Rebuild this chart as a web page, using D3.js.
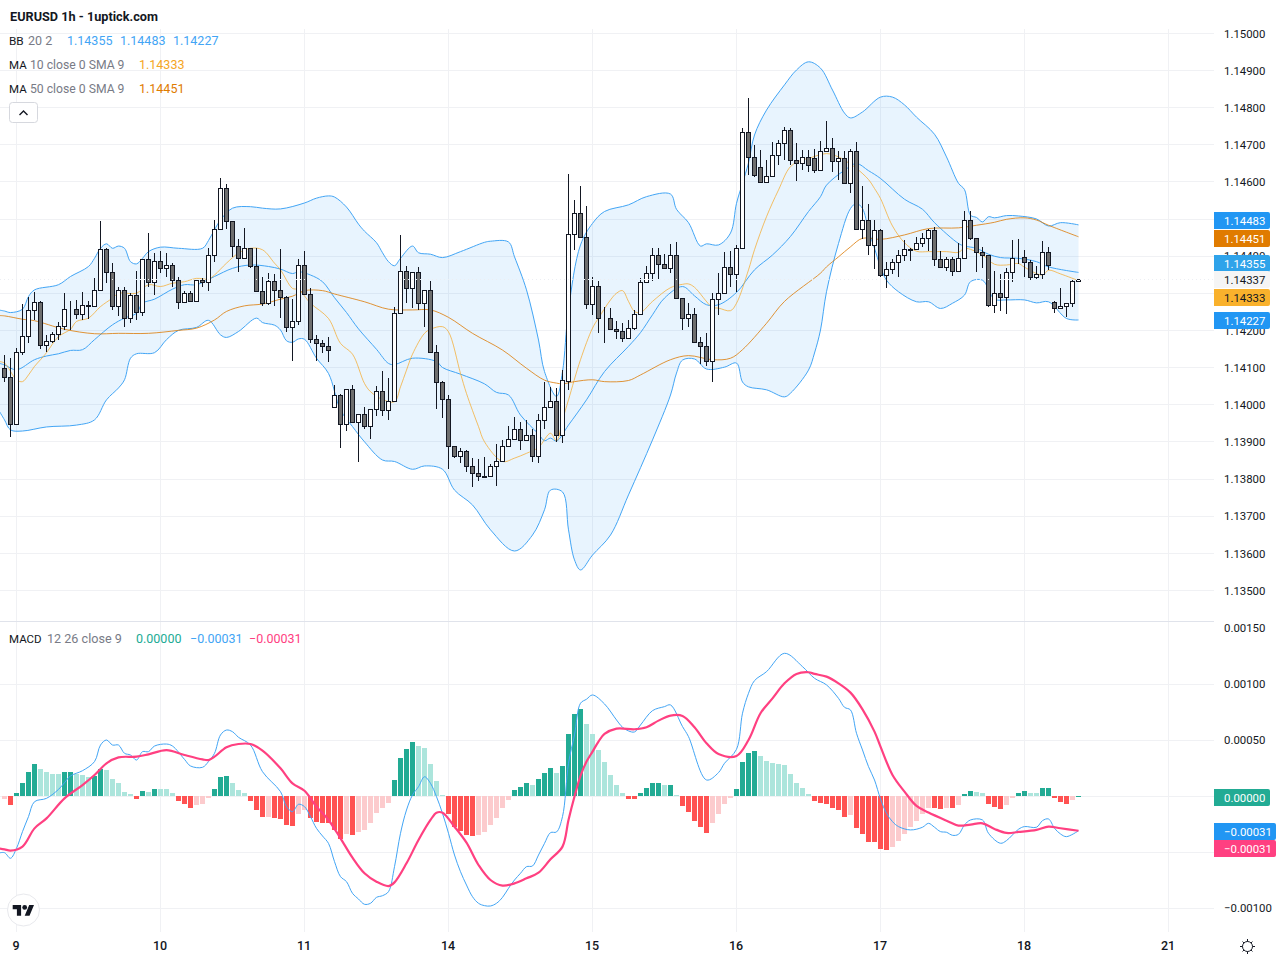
<!DOCTYPE html>
<html>
<head>
<meta charset="utf-8">
<title>EURUSD 1h</title>
<script src="https://cdn.jsdelivr.net/npm/d3@7/dist/d3.min.js"></script>
<style>
html,body{margin:0;padding:0;background:#fff;overflow:hidden}
svg{display:block}
text{font-family:Roboto,"Liberation Sans",sans-serif}
</style>
</head>
<body>
<svg id="chart" width="1280" height="960"></svg>
<script>
// All prices are in points (0.00001), hourly bars numbered from 0.
// Each row: open, high, low, close.
const ohlc = [
[114097,114133,114061,114073],[114073,114124,113912,113947],[113947,114151,113945,114140],[114140,114270,114133,114183],
[114183,114288,114164,114253],[114253,114302,114227,114275],[114275,114278,114150,114159],[114159,114186,114142,114170],
[114170,114194,114164,114189],[114189,114221,114174,114210],[114210,114299,114200,114256],[114256,114277,114200,114257],
[114256,114281,114230,114243],[114243,114302,114227,114267],[114264,114277,114230,114267],[114264,114339,114264,114307],
[114307,114494,114307,114418],[114418,114420,114326,114356],[114356,114380,114254,114264],[114264,114315,114238,114307],
[114307,114315,114209,114232],[114232,114299,114220,114295],[114294,114358,114227,114248],[114248,114391,114238,114391],
[114391,114461,114315,114329],[114329,114407,114294,114385],[114385,114413,114353,114366],[114366,114407,114342,114374],
[114374,114380,114315,114334],[114334,114342,114256,114275],[114275,114304,114275,114299],[114299,114304,114278,114278],
[114278,114335,114277,114334],[114334,114339,114315,114329],[114329,114420,114306,114401],[114401,114496,114382,114471],
[114471,114609,114471,114582],[114582,114592,114473,114493],[114493,114494,114396,114425],[114425,114444,114357,114393],
[114393,114474,114392,114420],[114420,114421,114366,114372],[114372,114420,114304,114304],[114304,114342,114265,114272],
[114272,114353,114268,114331],[114331,114351,114264,114307],[114307,114418,114233,114290],[114290,114291,114195,114207],
[114207,114283,114117,114223],[114223,114391,114213,114374],[114374,114412,114296,114296],[114296,114312,114164,114175],
[114175,114186,114117,114164],[114164,114173,114139,114156],[114156,114180,114115,114145],[113994,114052,113994,114024],
[114024,114029,113883,113946],[113946,114041,113929,114040],[114040,114052,113949,113951],[113951,113973,113844,113973],
[113973,113994,113934,113941],[113941,113987,113907,113986],[113986,114049,113969,114035],[114035,114090,113969,113984],
[113984,114070,113959,114008],[114008,114261,114008,114245],[114245,114456,114243,114358],[114358,114372,114273,114312],
[114312,114356,114258,114355],[114355,114369,114253,114274],[114274,114308,114207,114307],[114307,114332,114142,114142],
[114142,114159,113986,114059],[114059,114062,113964,114013],[114013,114025,113827,113887],[113887,113888,113855,113860],
[113860,113881,113841,113873],[113873,113876,113817,113833],[113833,113855,113777,113814],[113814,113853,113794,113806],
[113806,113857,113805,113805],[113806,113838,113803,113833],[113833,113893,113781,113846],[113846,113904,113846,113887],
[113887,113941,113886,113906],[113906,113965,113906,113933],[113933,113951,113876,113903],[113903,113958,113903,113916],
[113916,113934,113844,113860],[113860,113973,113841,113957],[113957,114060,113933,113994],[113994,114047,113989,114008],
[114008,114044,113898,113917],[113917,114093,113896,114065],[114064,114619,114039,114458],[114458,114550,114416,114514],
[114514,114588,114450,114450],[114450,114534,114257,114270],[114270,114342,114241,114318],[114318,114331,114193,114232],
[114232,114263,114164,114231],[114232,114260,114202,114202],[114202,114225,114175,114197],[114197,114218,114168,114178],
[114178,114227,114175,114205],[114205,114254,114200,114243],[114243,114340,114240,114329],[114329,114372,114326,114353],
[114353,114420,114332,114401],[114401,114420,114337,114377],[114377,114405,114366,114366],[114366,114431,114353,114401],
[114401,114437,114283,114286],[114286,114287,114199,114232],[114232,114272,114209,114243],[114243,114259,114167,114167],
[114167,114181,114108,114156],[114156,114191,114102,114116],[114116,114299,114061,114283],[114283,114353,114240,114299],
[114299,114411,114299,114369],[114369,114413,114317,114350],[114350,114429,114302,114420],[114420,114744,114421,114733],
[114733,114825,114617,114666],[114666,114698,114612,114617],[114640,114685,114596,114598],[114598,114658,114596,114615],
[114615,114706,114612,114671],[114671,114712,114644,114703],[114703,114747,114658,114738],[114738,114744,114644,114658],
[114658,114703,114601,114650],[114650,114685,114631,114666],[114666,114685,114625,114644],[114662,114686,114623,114632],
[114632,114708,114630,114681],[114681,114762,114681,114691],[114691,114716,114626,114656],[114656,114681,114605,114662],
[114662,114681,114595,114595],[114595,114686,114569,114683],[114683,114705,114469,114473],[114473,114589,114444,114495],
[114495,114538,114401,114428],[114428,114496,114365,114468],[114468,114473,114342,114347],[114347,114382,114312,114363],
[114363,114390,114351,114382],[114382,114415,114343,114403],[114403,114442,114386,114417],[114417,114420,114386,114415],
[114419,114451,114417,114433],[114433,114460,114424,114449],[114449,114473,114412,114468],[114468,114478,114373,114390],
[114390,114412,114369,114369],[114369,114397,114360,114390],[114390,114397,114346,114358],[114358,114433,114358,114395],
[114395,114520,114395,114495],[114495,114520,114442,114447],[114447,114448,114356,114409],[114409,114423,114366,114401],
[114401,114402,114261,114266],[114266,114360,114246,114299],[114299,114352,114252,114288],[114288,114366,114243,114355],
[114355,114442,114329,114395],[114395,114445,114377,114394],[114396,114415,114343,114382],[114382,114388,114334,114342],
[114342,114372,114334,114352],[114352,114439,114338,114409],[114409,114424,114361,114374],[114276,114277,114247,114258],
[114258,114312,114258,114264],[114264,114273,114236,114272],[114272,114336,114263,114331],[114331,114338,114331,114337]
];

// Bollinger Bands and moving averages: [bar, value] readings.
const bbUpper = [[-1,114254],[0,114251],[1,114247],[3,114256],[4,114290],[5,114308],[9,114322],[11,114344],[14,114371],[15,114393],[16,114420],[17,114432],[18,114420],[19,114426],[20,114420],[21,114384],[22,114378],[23,114393],[24,114411],[26,114423],[29,114420],[33,114420],[34,114441],[35,114470],[36,114496],[38,114528],[41,114532],[43,114528],[46,114526],[50,114542],[52,114555],[54,114561],[55,114558],[57,114531],[59,114485],[60,114466],[62,114435],[63,114408],[64,114384],[65,114373],[66,114393],[68,114426],[69,114408],[71,114404],[73,114395],[76,114411],[80,114436],[81,114439],[84,114437],[85,114397],[87,114308],[89,114173],[90,114088],[92,114021],[93,114088],[94,114254],[96,114429],[98,114487],[100,114519],[104,114537],[107,114559],[111,114566],[112,114525],[114,114489],[116,114426],[117,114432],[119,114429],[121,114461],[122,114541],[123,114595],[124,114650],[125,114725],[127,114792],[130,114860],[132,114900],[134,114922],[136,114905],[138,114846],[140,114784],[141,114771],[143,114787],[146,114827],[148,114827],[150,114806],[152,114773],[155,114727],[157,114666],[159,114595],[160,114578],[161,114509],[162,114503],[163,114491],[164,114505],[165,114502],[167,114508],[169,114507],[172,114499],[174,114480],[176,114489],[179,114483]];
const bbMiddle = [[-1,114111],[0,114106],[2,114093],[5,114120],[7,114130],[9,114136],[11,114145],[13,114147],[15,114174],[18,114214],[20,114232],[22,114245],[23,114272],[25,114283],[28,114310],[30,114322],[32,114322],[35,114344],[38,114366],[41,114375],[44,114371],[46,114364],[48,114352],[49,114357],[51,114348],[53,114330],[55,114287],[57,114247],[59,114203],[62,114148],[64,114110],[65,114107],[68,114124],[72,114115],[73,114099],[76,114081],[80,114055],[82,114032],[84,114025],[86,113971],[89,113920],[90,113902],[91,113909],[92,113901],[94,113944],[97,114012],[100,114088],[104,114156],[106,114193],[108,114241],[110,114286],[113,114317],[115,114292],[117,114268],[119,114268],[122,114301],[125,114362],[128,114402],[131,114452],[134,114519],[136,114559],[137,114590],[140,114630],[142,114648],[144,114629],[146,114608],[150,114552],[153,114525],[155,114489],[159,114433],[160,114426],[162,114420],[164,114404],[166,114395],[169,114393],[172,114384],[174,114370],[179,114355]];
const bbLower = [[-1,113985],[0,113958],[1,113931],[3,113928],[7,113939],[12,113944],[15,113958],[17,114012],[19,114044],[20,114066],[21,114124],[22,114136],[25,114139],[27,114174],[29,114199],[32,114207],[34,114226],[36,114187],[37,114180],[39,114196],[42,114232],[43,114220],[45,114213],[46,114200],[47,114171],[48,114167],[49,114176],[50,114175],[52,114124],[54,114083],[56,113985],[58,113940],[60,113899],[63,113850],[65,113846],[68,113825],[70,113834],[73,113825],[75,113769],[78,113729],[81,113662],[85,113605],[88,113648],[90,113716],[91,113769],[93,113764],[94,113662],[95,113581],[96,113554],[98,113594],[101,113648],[104,113756],[108,113904],[111,114025],[112,114084],[113,114119],[115,114122],[117,114095],[120,114100],[122,114111],[123,114060],[124,114047],[127,114039],[130,114020],[131,114030],[134,114092],[135,114138],[136,114200],[137,114303],[139,114433],[141,114527],[142,114541],[143,114527],[144,114469],[145,114420],[146,114370],[147,114334],[149,114303],[152,114276],[154,114276],[156,114258],[158,114272],[160,114294],[161,114330],[163,114334],[165,114283],[167,114281],[170,114281],[172,114273],[174,114276],[177,114231],[179,114227]];
const ma10 = [[-1,114115],[0,114111],[2,114066],[3,114061],[4,114079],[5,114102],[6,114120],[7,114139],[9,114182],[11,114202],[12,114223],[14,114232],[16,114263],[18,114286],[19,114299],[22,114299],[24,114322],[26,114317],[28,114326],[30,114330],[32,114339],[34,114337],[35,114348],[37,114380],[39,114407],[41,114420],[43,114416],[45,114380],[46,114362],[48,114312],[49,114309],[51,114272],[54,114231],[56,114164],[58,114135],[60,114056],[61,114034],[63,114013],[65,114007],[66,114047],[67,114092],[68,114135],[70,114191],[71,114202],[73,114209],[74,114195],[76,114083],[77,114029],[79,113940],[80,113899],[83,113846],[85,113855],[87,113868],[89,113884],[91,113922],[92,113901],[93,113958],[94,114012],[96,114120],[98,114205],[99,114232],[101,114281],[102,114299],[103,114306],[104,114277],[105,114250],[106,114247],[108,114277],[111,114314],[113,114323],[114,114324],[115,114315],[118,114261],[119,114259],[121,114252],[122,114272],[124,114362],[125,114416],[127,114505],[129,114577],[131,114640],[133,114658],[134,114662],[137,114675],[139,114666],[140,114657],[142,114635],[144,114605],[145,114581],[146,114554],[148,114480],[150,114435],[152,114412],[154,114411],[157,114411],[159,114409],[160,114420],[163,114402],[165,114377],[167,114375],[169,114379],[170,114369],[173,114348],[174,114361],[176,114351],[179,114333]];
const ma50 = [[-1,114239],[0,114238],[3,114229],[5,114225],[10,114202],[15,114190],[19,114191],[24,114191],[29,114199],[32,114205],[35,114227],[37,114250],[40,114265],[43,114270],[46,114283],[48,114291],[50,114306],[53,114306],[55,114297],[60,114276],[64,114256],[68,114254],[71,114254],[74,114234],[78,114191],[83,114146],[87,114097],[90,114065],[92,114057],[93,114055],[95,114061],[98,114066],[100,114061],[104,114064],[106,114079],[111,114120],[114,114131],[118,114120],[121,114124],[123,114147],[127,114218],[130,114277],[136,114353],[137,114370],[139,114397],[141,114424],[143,114447],[146,114444],[150,114456],[154,114473],[159,114475],[162,114482],[165,114490],[167,114498],[170,114502],[172,114496],[174,114482],[179,114451]];

// MACD pane, also in points.
const macdHist = [-2.7,-8,3,11.6,21.4,28.6,24.1,21.4,19.6,19.4,21.4,21.5,19.6,18.8,17,17.9,24.1,23.2,15.2,11.6,3.6,1.8,-2.7,4.5,3.6,6.3,6.2,6.1,2.7,-4.5,-7.1,-10.7,-8,-7.1,-1.8,6.3,17,17.9,11.6,5.4,2.7,-4.5,-12.5,-18.8,-18.7,-19.6,-20.5,-25.9,-26.8,-16.1,-12.5,-19.6,-23.2,-24.1,-24.2,-30.4,-38.4,-33.9,-34.8,-32.1,-30.4,-24.1,-15.2,-10.7,-6.3,14.3,33.9,42,48.2,44.6,42.9,28.6,13.4,0.9,-16.1,-27.7,-31.3,-34.8,-35.7,-34.8,-32.1,-25.9,-19.6,-10.7,-3.6,5.4,8,11.6,9.8,15.2,20.5,25,20.5,26.8,55.4,73.2,77.7,64.3,55.4,41.1,30.4,18.8,9.8,2.7,-2.7,-2.8,2.7,7.1,11.6,11.7,9.8,9.9,0.9,-8.9,-14.3,-22.3,-27.7,-33,-24.1,-16.1,-7.1,-1.8,6.3,30.4,38.4,40.2,35.7,31.3,29.5,28.6,27.7,19.6,11.6,7.1,1.8,-4.5,-6.3,-7.1,-10.7,-12.5,-18.8,-17,-28.6,-33.9,-41.1,-41.2,-47.3,-48.2,-45.5,-40.2,-33.9,-27.7,-22.3,-16.1,-10.7,-10.8,-11.6,-10.7,-10.8,-8,1.8,4.5,3.6,2.7,-7.1,-9.8,-11.6,-8,-1.8,2.7,4.5,2.7,2.6,7.1,7.2,-1.8,-5.4,-7.1,-3.6,0];
const macdLine = [[-1,-51],[0,-50.6],[1,-55.6],[2,-46.7],[3,-31.8],[4,-18.4],[5,-5.1],[7,-2.1],[9,5.9],[10,11.9],[11,17.9],[13,22.6],[15,30.7],[16,45.5],[17,50],[18,45.5],[19,45.5],[20,38.1],[21,36.6],[22,32.1],[23,39.6],[24,39.6],[25,44.6],[27,46.4],[28,44.6],[30,32.7],[31,26.8],[33,25.6],[34,30.7],[35,38.1],[36,54.5],[37,58.9],[38,57.4],[39,52.4],[41,45.5],[43,21.7],[46,3.9],[47,-9.5],[48,-14],[49,-7.4],[50,-9.5],[51,-18.5],[52,-28.9],[53,-35.7],[54,-42.3],[55,-58.6],[56,-72],[57,-76.5],[58,-86.9],[59,-92],[60,-96.7],[61,-95.8],[62,-90.5],[63,-89],[64,-85.4],[65,-63.1],[66,-33.3],[67,-12.5],[68,0.9],[69,8.3],[70,17.2],[71,11.3],[72,-0.6],[73,-15.5],[74,-33.3],[75,-52.7],[76,-67.6],[77,-79.5],[78,-89.9],[79,-95.8],[80,-97.9],[81,-98.2],[82,-95.8],[83,-90.5],[84,-82.4],[85,-75],[86,-69],[87,-63.1],[88,-62.5],[89,-52.7],[90,-42.3],[91,-32.7],[92,-32.1],[93,-18.4],[94,29.2],[95,54.5],[96,82.8],[97,86.4],[98,90.2],[100,82.2],[102,67.9],[103,61.4],[104,58.1],[105,57.2],[106,63.4],[108,76.2],[110,79.8],[111,81.3],[113,62],[114,53],[117,14.3],[119,20.9],[120,29.2],[122,41.7],[123,73.9],[124,91.7],[125,103],[127,111],[130,127.4],[133,115.5],[135,105.1],[137,99.2],[139,87.2],[140,79.2],[141,76.8],[142,56],[143,41.1],[144,26.2],[145,14.3],[146,-2.6],[147,-15.4],[148,-22.9],[149,-27.3],[151,-30.3],[153,-27.9],[154,-24.4],[155,-27.9],[156,-31.8],[157,-32.4],[158,-35.1],[159,-34.2],[160,-25.8],[161,-21.4],[163,-21.4],[164,-33.3],[166,-42.2],[167,-39.8],[169,-29.7],[170,-27.3],[172,-27.9],[173,-22],[174,-20.5],[175,-28.8],[176,-33.9],[177,-36.3],[179,-31]];
const signalLine = [[-1,-46.7],[0,-47.6],[1,-48.8],[3,-45.2],[5,-28.9],[7,-20],[10,-2.1],[13,9.8],[15,18.8],[17,29.2],[19,34.5],[22,35.1],[24,37.2],[27,41],[30,36.6],[33,32.7],[34,32.1],[35,35.1],[37,43.5],[39,46.4],[41,46.4],[43,40.5],[46,24.7],[48,11.3],[50,4.7],[52,-9.5],[54,-21.4],[56,-37.8],[58,-55.1],[60,-69],[62,-76.5],[64,-80.4],[65,-77.1],[67,-60.1],[69,-39.3],[71,-21.4],[72,-14.9],[73,-14.9],[75,-27.4],[77,-41.7],[79,-61.6],[81,-75],[83,-80],[85,-78],[87,-73.5],[89,-68.5],[91,-56.5],[93,-45.2],[94,-21.4],[95,-0.5],[96,17.9],[97,30.7],[98,39.6],[99,48.6],[100,55.4],[102,60.2],[105,59.6],[107,61.4],[109,67.3],[111,71.8],[113,71.5],[115,61.4],[117,47.1],[119,37.5],[122,35.8],[124,50],[126,73.9],[128,87.2],[130,100.6],[132,109],[134,110.5],[135,109],[137,106.6],[139,100.6],[141,92.3],[143,77.4],[145,57.5],[146,44.1],[148,18.8],[150,3.9],[152,-8.9],[154,-14.8],[157,-22],[159,-26.4],[161,-25.5],[163,-24.4],[165,-29.4],[167,-33],[169,-32.1],[172,-30.3],[174,-27.3],[176,-28.8],[179,-31]];

// Axis ticks.
const priceTicks = [113500,113600,113700,113800,113900,114000,114100,114200,114300,114400,114500,114600,114700,114800,114900,115000];
const macdTicks = [-100,-50,0,50,100,150];
const dayBars = [2,26,50,74,98,122,146,170,194];
const dayLabels = ["9","10","11","14","15","16","17","18","21"];

const colors = {
  bb:"#42a5f5", bbFill:"rgba(33,150,243,0.1)", ma10:"#f5a623", ma50:"#dc7a05",
  grid:"#f0f1f4", ink:"#131722", muted:"#787b86", down:"#6e6e6e",
  hUpStrong:"#22ab94", hUpWeak:"#ace5dc", hDownStrong:"#ff5252", hDownWeak:"#fccbcd",
  macd:"#42a5f5", signal:"#ff4081"
};
const axisFont = 11.4;

const svg = d3.select("#chart");
const x = d3.scaleLinear().domain([0,179]).range([4.5,1078.5]);
const yPrice = d3.scaleLinear().domain([113500,114900]).range([590,70]);
const yMacd = d3.scaleLinear().domain([-100,100]).range([908,684]);
const fmt = v => d3.format(".5f")(v/1e5);
const last = a => a[a.length-1][1];
const crisp = v => Math.round(v)+0.5;

const defs = svg.append("defs");
defs.append("clipPath").attr("id","clipPrice").append("rect").attr("width",1214).attr("y",28).attr("height",592);
defs.append("clipPath").attr("id","clipMacd").append("rect").attr("width",1214).attr("y",622).attr("height",310);

// Grid
const grid = svg.append("g").attr("shape-rendering","crispEdges").attr("stroke",colors.grid);
grid.selectAll(".gp").data(priceTicks).join("line").attr("x1",0).attr("x2",1214)
  .attr("y1",d=>crisp(yPrice(d))).attr("y2",d=>crisp(yPrice(d)));
grid.selectAll(".gm").data(macdTicks.filter(d=>d<150)).join("line").attr("x1",0).attr("x2",1214)
  .attr("y1",d=>crisp(yMacd(d))).attr("y2",d=>crisp(yMacd(d)));
grid.selectAll(".gv").data(dayBars).join("line").attr("y1",28).attr("y2",932)
  .attr("x1",d=>x(d)).attr("x2",d=>x(d));
svg.append("line").attr("x1",0).attr("x2",1214).attr("y1",621.5).attr("y2",621.5).attr("stroke","#e0e3eb");

// Price pane
const pricePane = svg.append("g").attr("clip-path","url(#clipPrice)");
const priceLine = d3.line().x(d=>x(d[0])).y(d=>yPrice(d[1])).curve(d3.curveCatmullRom.alpha(0.5));
pricePane.append("path")
  .attr("d",priceLine(bbUpper)+"L"+priceLine(bbLower.slice().reverse()).slice(1)+"Z")
  .attr("fill",colors.bbFill);
[[bbUpper,colors.bb,1,1],[bbLower,colors.bb,1,1],[bbMiddle,colors.bb,1,1],[ma10,colors.ma10,1,.7],[ma50,colors.ma50,1,.8]]
  .forEach(([data,c,w,o])=>pricePane.append("path").attr("d",priceLine(data)).attr("fill","none")
    .attr("stroke",c).attr("stroke-width",w).attr("stroke-opacity",o));

const candles = pricePane.append("g").attr("shape-rendering","crispEdges");
candles.selectAll("line").data(ohlc).join("line")
  .attr("x1",(d,i)=>x(i)).attr("x2",(d,i)=>x(i))
  .attr("y1",d=>Math.round(yPrice(d[1]))).attr("y2",d=>Math.round(yPrice(d[2])))
  .attr("stroke",colors.ink);
candles.selectAll("rect").data(ohlc).join("rect")
  .attr("x",(d,i)=>x(i)-2).attr("width",4)
  .attr("y",d=>crisp(yPrice(Math.max(d[0],d[3]))))
  .attr("height",d=>Math.max(0,crisp(yPrice(Math.min(d[0],d[3])))-crisp(yPrice(Math.max(d[0],d[3])))))
  .attr("fill",d=>d[3]>=d[0]?"#ffffff":colors.down)
  .attr("stroke",colors.ink);

// Last-price dotted guide
svg.append("line").attr("x1",0).attr("x2",1214)
  .attr("y1",crisp(yPrice(ohlc[179][3]))).attr("y2",crisp(yPrice(ohlc[179][3])))
  .attr("stroke","#eceef3").attr("stroke-dasharray","1 3");

// MACD pane
const macdPane = svg.append("g").attr("clip-path","url(#clipMacd)");
macdPane.append("g").attr("shape-rendering","crispEdges").selectAll("rect").data(macdHist).join("rect")
  .attr("x",(d,i)=>x(i)-2.5).attr("width",5)
  .attr("y",d=>d>=0?Math.round(yMacd(d)):Math.round(yMacd(0)))
  .attr("height",d=>Math.max(1,Math.abs(Math.round(yMacd(d))-Math.round(yMacd(0)))))
  .attr("fill",(d,i)=>{
    const p = i>0?macdHist[i-1]:d;
    if(d>=0) return (d>p||d===0)?colors.hUpStrong:colors.hUpWeak;
    return d<p?colors.hDownStrong:colors.hDownWeak;
  });
const macdPath = d3.line().x(d=>x(d[0])).y(d=>yMacd(d[1])).curve(d3.curveCatmullRom.alpha(0.5));
macdPane.append("path").attr("d",macdPath(macdLine)).attr("fill","none").attr("stroke",colors.macd).attr("stroke-width",1);
macdPane.append("path").attr("d",macdPath(signalLine)).attr("fill","none").attr("stroke",colors.signal).attr("stroke-width",2.2);

// Axes
function styleAxis(g,size){
  g.select(".domain").remove();
  g.selectAll("line").remove();
  g.selectAll("text").attr("font-size",size).attr("fill",colors.ink);
}
const priceAxis = svg.append("g").attr("transform","translate(1224,0.6)")
  .call(d3.axisRight(yPrice).tickValues(priceTicks).tickSize(0).tickPadding(0).tickFormat(fmt));
styleAxis(priceAxis,axisFont);
const macdAxis = svg.append("g").attr("transform","translate(1224,0)")
  .call(d3.axisRight(yMacd).tickValues(macdTicks).tickSize(0).tickPadding(0).tickFormat(fmt));
styleAxis(macdAxis,axisFont);
const dayAxis = svg.append("g").attr("transform","translate(-1,932)")
  .call(d3.axisBottom(x).tickValues(dayBars).tickSize(0).tickPadding(9).tickFormat((d,i)=>dayLabels[i]));
styleAxis(dayAxis,12.5);
dayAxis.selectAll("text").attr("font-weight",500);

// White band behind the title; it also cuts off the top of the highest price label
svg.append("rect").attr("width",1280).attr("height",29).attr("fill","#fff");

// Value tags on the right scale
function tag(value,scale,nudge,bg,fg,right){
  const cy = Math.round(scale(value)+nudge)+0.5;
  svg.append("path").attr("fill",bg)
    .attr("d",`M1214 ${cy-8.5}H${right-2}a2 2 0 0 1 2 2V${cy+6.5}a2 2 0 0 1 -2 2H1214Z`);
  svg.append("text").attr("x",1224).attr("y",cy).attr("dy","0.36em").attr("font-size",axisFont).attr("fill",fg).text(fmt(value));
}
tag(last(bbUpper),yPrice,-4.5,"#2196f3","#fff",1270);
tag(last(ma50),yPrice,1,"#e07b00","#fff",1270);
tag(last(bbMiddle),yPrice,-9.5,"#2fa3ea","#fff",1270);
tag(ohlc[179][3],yPrice,0,"#f5f5f5",colors.ink,1270);
tag(last(ma10),yPrice,16.5,"#f9b12c",colors.ink,1270);
tag(last(bbLower),yPrice,0,"#2196f3","#fff",1270);
tag(macdHist[179],yMacd,0.5,"#22ab94","#fff",1270);
tag(last(macdLine),yMacd,0.5,"#2196f3","#fff",1276);
tag(last(signalLine),yMacd,17.5,"#ff4081","#fff",1276);

// Legend rows
function label(px,py,str,fill,size,weight,family){
  const t = svg.append("text").attr("x",px).attr("y",py).attr("dy","0.36em")
    .attr("font-size",size||12.5).attr("fill",fill).text(str);
  if(weight) t.attr("font-weight",weight);
  if(family) t.attr("font-family",family);
  return t;
}
label(10,16,"EURUSD 1h - 1uptick.com",colors.ink,12.7,"700","'Liberation Sans',sans-serif");
label(9,40.5,"BB",colors.ink,11.8);
label(28,40.5,"20 2",colors.muted);
label(67,40.5,fmt(last(bbMiddle)),colors.bb);
label(120,40.5,fmt(last(bbUpper)),colors.bb);
label(173,40.5,fmt(last(bbLower)),colors.bb);
label(9,64.5,"MA",colors.ink,11.5);
label(30,64.5,"10 close 0 SMA 9",colors.muted,12.2);
label(139,64.5,fmt(last(ma10)),"#f5a623");
label(9,88.5,"MA",colors.ink,11.5);
label(30,88.5,"50 close 0 SMA 9",colors.muted,12.2);
label(139,88.5,fmt(last(ma50)),"#e07b00");
label(9,638.5,"MACD",colors.ink,11.5);
label(47,638.5,"12 26 close 9",colors.muted,12.6);
label(136,638.5,fmt(macdHist[179]),"#22ab94");
label(190,638.5,fmt(last(macdLine)),colors.bb);
label(249,638.5,fmt(last(signalLine)),"#ff4081");

// Collapse button
svg.append("rect").attr("x",9.5).attr("y",102.5).attr("width",28).attr("height",20).attr("rx",3)
  .attr("fill","#fff").attr("stroke","#d6d8de");
svg.append("path").attr("d","M19.5 115l4-4 4 4").attr("fill","none").attr("stroke",colors.ink).attr("stroke-width",1.4);

// Logo badge
svg.append("circle").attr("cx",23.5).attr("cy",910).attr("r",16).attr("fill","#fff").attr("stroke","#e8e9ed").attr("stroke-width",1);
const logo = svg.append("g").attr("transform","translate(12.7,905) scale(0.6) translate(0,-4)").attr("fill",colors.ink);
logo.append("path").attr("d","M14 22H7V11H0V4h14v18zM28 22h-8l7.5-18h8L28 22z");
logo.append("circle").attr("cx",20).attr("cy",8).attr("r",4);

// Settings icon
const gear = svg.append("g").attr("transform","translate(1247.5,946.5)").attr("fill","none").attr("stroke",colors.ink);
gear.append("circle").attr("r",5);
d3.range(8).forEach(k=>{
  const a = k*Math.PI/4, r1 = 5, r2 = k%2?7:7.5;
  gear.append("line").attr("x1",r1*Math.cos(a)).attr("y1",r1*Math.sin(a)).attr("x2",r2*Math.cos(a)).attr("y2",r2*Math.sin(a));
});
</script>
</body>
</html>
